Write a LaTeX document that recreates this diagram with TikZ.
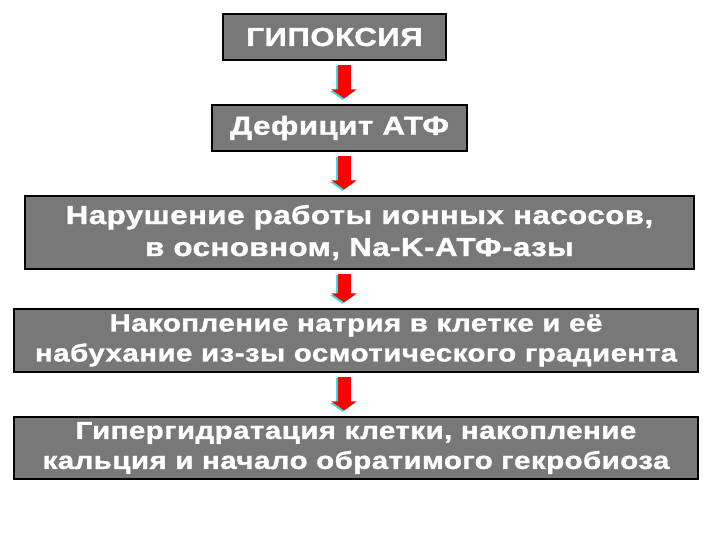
\documentclass[tikz,border=0pt]{standalone}
\usepackage{fontspec}
\setmainfont{Liberation Sans}
\newfontfamily\boxfont{Liberation Sans}[FakeStretch=1.2, FakeBold=1.4, LetterSpace=2]
\usepackage{tikz}
\usetikzlibrary{positioning, arrows.meta}
\definecolor{boxgray}{RGB}{120,120,120}
\definecolor{glow}{RGB}{60,220,220}
\tikzset{
    x=1pt, y=-1pt, % one unit is one pixel of the slide
    stage/.style={draw=black, line width=1.3pt, fill=boxgray, text=white,
        font=\boxfont\bfseries\fontsize{26}{32}\selectfont, align=center,
        inner sep=0pt}, % sets the properties of each grey box
    longstage/.style={stage, font=\boxfont\bfseries\fontsize{24.5}{30}\selectfont}, % the two widest texts
    down/.style={line width=13pt, red, -{Triangle[width=25pt, length=9pt]},
        shorten <=4pt, shorten >=6pt,
        preaction={draw=glow, line width=13pt, -{Triangle[width=25pt, length=9pt]},
            transform canvas={xshift=-1.5pt, yshift=-1.5pt}}}, % the red arrows
    }

\begin{document}
\begin{tikzpicture}
\useasboundingbox (0,0) rectangle (720,540);
\node[stage, minimum width=223, minimum height=46] (hyp) at (334.5,37) {ГИПОКСИЯ};
\node[stage, minimum width=255, minimum height=46] (atp) at (339.5,128) {Дефицит АТФ};
\node[stage, minimum width=669, minimum height=73] (pump) at (359.5,232.5)
    {Нарушение работы ионных насосов,\\в основном, Na-K-АТФ-азы};
\node[longstage, minimum width=684, minimum height=63] (na) at (356,340.5)
    {Накопление натрия в клетке и её\\набухание из-зы осмотического градиента};
\node[longstage, minimum width=684, minimum height=62] (ca) at (356,448)
    {Гипергидратация клетки, накопление\\кальция и начало обратимого гекробиоза};

\coordinate (a1) at (hyp.south -| 344,0);
\coordinate (b1) at (atp.north -| 344,0);
\coordinate (a2) at (atp.south -| 344,0);
\coordinate (b2) at (pump.north -| 344,0);
\coordinate (a3) at (pump.south -| 344,0);
\coordinate (b3) at (na.north -| 344,0);
\coordinate (a4) at (na.south -| 344,0);
\coordinate (b4) at (ca.north -| 344,0);
\draw[down] (a1) -- (b1);
\draw[down] (a2) -- (b2);
\draw[down] (a3) -- (b3);
\draw[down] (a4) -- (b4);
\end{tikzpicture}
\end{document}
